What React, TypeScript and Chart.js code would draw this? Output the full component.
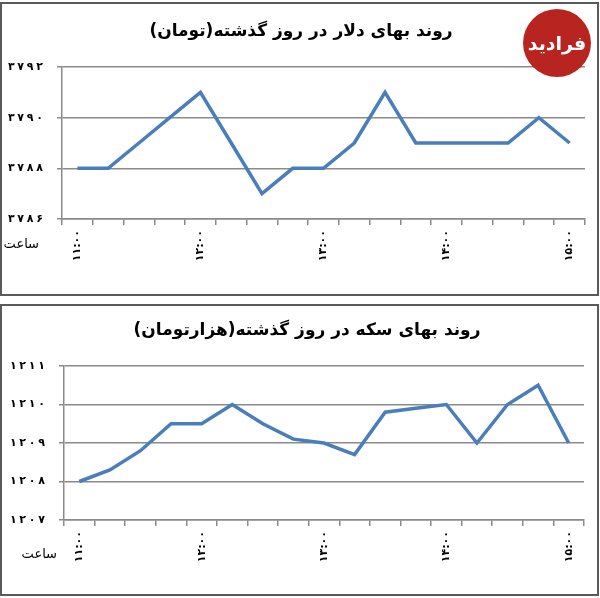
import React, { useEffect, useRef } from "react";
import { Chart, registerables } from "chart.js";

Chart.register(...registerables);

// times every 15 minutes, only the full hours get a label
const timeLabels = [
  "۱۱:۰۰", "۱۱:۱۵", "۱۱:۳۰", "۱۱:۴۵",
  "۱۲:۰۰", "۱۲:۱۵", "۱۲:۳۰", "۱۲:۴۵",
  "۱۳:۰۰", "۱۳:۱۵", "۱۳:۳۰", "۱۳:۴۵",
  "۱۴:۰۰", "۱۴:۱۵", "۱۴:۳۰", "۱۴:۴۵",
  "۱۵:۰۰",
];

const dollarPrices = [
  3788, 3788, 3789, 3790, 3791, 3789, 3787, 3788, 3788,
  3789, 3791, 3789, 3789, 3789, 3789, 3790, 3789,
];
const dollarTicks = [3786, 3788, 3790, 3792];

const coinPrices = [
  1208, 1208.3, 1208.8, 1209.5, 1209.5, 1210, 1209.5, 1209.1, 1209,
  1208.7, 1209.8, 1209.9, 1210, 1209, 1210, 1210.5, 1209,
];
const coinTicks = [1207, 1208, 1209, 1210, 1211];

const dollarTitle = "روند بهای دلار در روز گذشته(تومان)";
const coinTitle = "روند بهای سکه در روز گذشته(هزارتومان)";
const unitLabel = "ساعت";

const FONT = "'DejaVu Sans', sans-serif";
const GRID = "#8a8a8a";

const faDigits = (n: number) =>
  String(n)
    .replace(/\d/g, (d) => "۰۱۲۳۴۵۶۷۸۹"[+d])
    .split("")
    .join("\u2005");

interface PriceChartProps {
  title: string;
  titleX: number;
  values: number[];
  ticks: number[];
  top: number;
  plotLeft: number;
  plotTop: number;
  plotRight: number;
  plotBottom: number;
  unitX: number;
  unitY: number;
}

const H = 298;

const PriceChart: React.FC<PriceChartProps> = (p) => {
  const chartRef = useRef<HTMLCanvasElement>(null);
  // the canvas is made twice as wide as the title centre, so the title lands there
  const canvasW = 2 * p.titleX;

  useEffect(() => {
    if (!chartRef.current) return;
    const titleSize = 17;
    const titleLine = titleSize * 1.2;
    const titleCenter = p.plotTop - 35;

    // draws the "ساعت" caption left of the time labels
    const unitPlugin = {
      id: "unitCaption",
      afterDraw(chart: Chart) {
        const ctx = chart.ctx;
        ctx.save();
        ctx.font = `13px ${FONT}`;
        ctx.fillStyle = "#000";
        ctx.textAlign = "right";
        ctx.textBaseline = "middle";
        ctx.fillText(unitLabel, p.unitX, p.unitY);
        ctx.restore();
      },
    };

    const chart = new Chart(chartRef.current, {
      type: "line",
      data: {
        labels: timeLabels,
        datasets: [
          {
            data: p.values,
            borderColor: "#4a7ebb",
            borderWidth: 3.5,
            pointRadius: 0,
            tension: 0,
            fill: false,
          },
        ],
      },
      options: {
        animation: false,
        responsive: true,
        maintainAspectRatio: false,
        layout: { padding: 0 },
        plugins: {
          legend: { display: false },
          tooltip: { enabled: false },
          title: {
            display: true,
            text: p.title + "\u200F",
            color: "#000",
            font: { family: FONT, size: titleSize, weight: "bold" },
            padding: {
              top: titleCenter - titleLine / 2,
              bottom: p.plotTop - titleCenter - titleLine / 2,
            },
          },
        },
        scales: {
          x: {
            offset: true,
            grid: {
              offset: true,
              drawOnChartArea: false,
              drawTicks: true,
              tickLength: 6,
              color: GRID,
              lineWidth: 1.5,
            },
            border: { display: true, color: GRID, width: 1.5 },
            ticks: {
              autoSkip: false,
              maxRotation: 90,
              minRotation: 90,
              padding: 5,
              color: "#000",
              font: { family: FONT, size: 11, weight: "bold" },
              callback: (_v, i) => (i % 4 === 0 ? timeLabels[i] : ""),
            },
            afterFit: (scale) => {
              scale.height = H - p.plotBottom;
            },
          },
          y: {
            min: p.ticks[0],
            max: p.ticks[p.ticks.length - 1],
            grid: {
              color: GRID,
              lineWidth: 1.5,
              drawTicks: true,
              tickLength: 5,
            },
            border: { display: true, color: GRID, width: 1.5 },
            ticks: {
              stepSize: p.ticks[1] - p.ticks[0],
              padding: 14,
              color: "#000",
              font: { family: FONT, size: 11, weight: "bold" },
              callback: (v) => faDigits(Number(v)),
            },
            afterFit: (scale) => {
              scale.width = p.plotLeft;
            },
          },
          // empty right axis, only keeps the plot's right margin
          spacer: {
            type: "linear",
            position: "right",
            grid: { display: false },
            border: { display: false },
            ticks: { display: false },
            afterFit: (scale) => {
              scale.width = canvasW - p.plotRight;
            },
          },
        },
      },
      plugins: [unitPlugin],
    });

    return () => {
      chart.destroy();
    };
  }, [p]);

  return (
    <div
      style={{
        position: "absolute",
        left: 0,
        top: p.top,
        width: canvasW,
        height: H,
      }}
    >
      <canvas ref={chartRef} />
    </div>
  );
};

const boxStyle = (top: number, height: number): React.CSSProperties => ({
  position: "absolute",
  left: 0,
  top,
  width: 599,
  height,
  border: "2px solid #5a5a5a",
  boxSizing: "border-box",
});

export default function App() {
  return (
    <div
      style={{
        position: "absolute",
        left: 0,
        top: 0,
        width: 600,
        height: 598,
        background: "#fff",
        overflow: "hidden",
      }}
    >
      <PriceChart
        title={dollarTitle}
        titleX={301}
        values={dollarPrices}
        ticks={dollarTicks}
        top={0}
        plotLeft={62}
        plotTop={67}
        plotRight={585}
        plotBottom={219}
        unitX={39}
        unitY={245}
      />
      <PriceChart
        title={coinTitle}
        titleX={307}
        values={coinPrices}
        ticks={coinTicks}
        top={300}
        plotLeft={64}
        plotTop={66}
        plotRight={584}
        plotBottom={220}
        unitX={57}
        unitY={255}
      />
      <div style={boxStyle(2, 294)} />
      <div style={boxStyle(304, 292)} />
      <div
        style={{
          position: "absolute",
          left: 523,
          top: 9,
          width: 68,
          height: 68,
          borderRadius: "50%",
          background: "#b8241f",
          color: "#fff",
          fontFamily: FONT,
          fontWeight: "bold",
          fontSize: 19,
          display: "flex",
          alignItems: "center",
          justifyContent: "center",
        }}
      >
        فرادید
      </div>
    </div>
  );
}
